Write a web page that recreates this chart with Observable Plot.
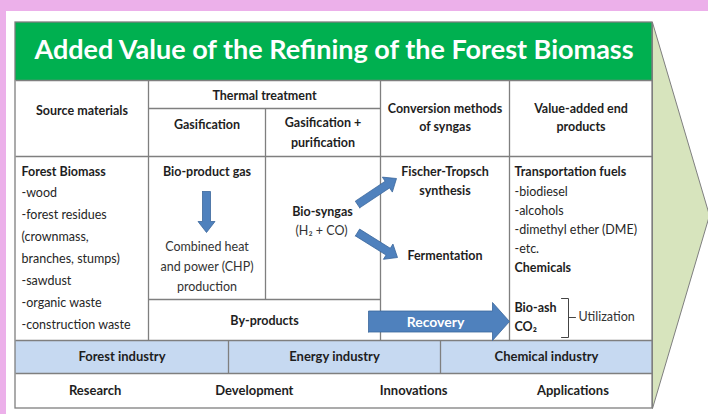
<!DOCTYPE html>
<html><head><meta charset="utf-8">
<script src="https://cdn.jsdelivr.net/npm/d3@7"></script>
<script src="https://cdn.jsdelivr.net/npm/@observablehq/plot@0.6"></script>
<style>
html,body{margin:0;padding:0;background:#ecb0ea;overflow:hidden;width:708px;height:414px}
#chart svg{display:block}
</style>
</head><body><div id="chart"></div>
<script>
// ---------- content ----------
const title = "Added Value of the Refining of the Forest Biomass";
const headerTop = ["Source materials", "Thermal treatment", "Conversion methods\nof syngas", "Value-added end\nproducts"];
const thermalSub = ["Gasification", "Gasification +\npurification"];
const sourceTitle = "Forest Biomass";
const sourceItems = ["-wood", "-forest residues", "(crownmass,", "branches, stumps)", "-sawdust", "-organic waste", "-construction waste"];
const gasTitle = "Bio-product gas";
const gasUse = ["Combined heat", "and power (CHP)", "production"];
const syngas = ["Bio-syngas", "(H\u2082 + CO)"];
const conversionMethods = ["Fischer-Tropsch\nsynthesis", "Fermentation"];
const fuelsTitle = "Transportation fuels";
const fuelItems = ["-biodiesel", "-alcohols", "-dimethyl ether (DME)", "-etc."];
const chemicals = "Chemicals";
const residues = ["Bio-ash", "CO\u2082"];
const residueUse = "Utilization";
const byProducts = "By-products";
const recovery = "Recovery";
const industries = ["Forest industry", "Energy industry", "Chemical industry"];
const stages = ["Research", "Development", "Innovations", "Applications"];

// ---------- layout (slide coordinates) ----------
const W = 708, H = 414;
const colX = [15, 148, 265, 380, 509, 652];
const rowY = [22, 80, 108, 156, 299, 340, 373, 408];
const industryX = [15, 228, 440, 652];

const pink = "#ecb0ea", green = "#00b050", band = "#c6d9f1", chevron = "#d7e4bd";
const gridC = "#7f7f7f", ink = "#1e1e1e", blue = "#4f81bd", blueDark = "#3b679c";
const font = "Lato, 'Open Sans', sans-serif";

function blockArrow(id, x0, y0, x1, y1, sh, hh, hl) {
  const dx = x1 - x0, dy = y1 - y0, L = Math.hypot(dx, dy), ux = dx / L, uy = dy / L, px = -uy, py = ux;
  const bx = x1 - ux * hl, by = y1 - uy * hl;
  const pts = [[x0 + px * sh, y0 + py * sh], [bx + px * sh, by + py * sh], [bx + px * hh, by + py * hh], [x1, y1],
    [bx - px * hh, by - py * hh], [bx - px * sh, by - py * sh], [x0 - px * sh, y0 - py * sh], [x0 + px * sh, y0 + py * sh]];
  return pts.map(([x, y]) => ({id, x, y}));
}

const arrows = [
  ...blockArrow("down", 206, 191, 206, 232, 4, 8.5, 11),
  ...blockArrow("up", 357, 204, 396, 178, 4, 9, 11),
  ...blockArrow("dn", 357, 232, 397, 257, 4, 9, 11),
];
const recoveryArrow = blockArrow("rec", 368, 321, 509, 321, 10.5, 19, 17);

const chevronPts = [{x: colX[5], y: rowY[0]}, {x: 709, y: 215}, {x: colX[5], y: rowY[7]}, {x: colX[5], y: rowY[0]}];

const gridLinks = [
  {x1: colX[0], x2: colX[5], y1: rowY[1], y2: rowY[1]},
  {x1: colX[1], x2: colX[3], y1: rowY[2], y2: rowY[2]},
  {x1: colX[0], x2: colX[5], y1: rowY[3], y2: rowY[3]},
  {x1: colX[1], x2: colX[3], y1: rowY[4], y2: rowY[4]},
  {x1: colX[0], x2: colX[5], y1: rowY[5], y2: rowY[5]},
  {x1: colX[0], x2: colX[5], y1: rowY[6], y2: rowY[6]},
  {x1: colX[1], x2: colX[1], y1: rowY[1], y2: rowY[5]},
  {x1: colX[2], x2: colX[2], y1: rowY[2], y2: rowY[4]},
  {x1: colX[3], x2: colX[3], y1: rowY[1], y2: rowY[5]},
  {x1: colX[4], x2: colX[4], y1: rowY[1], y2: rowY[5]},
  {x1: industryX[1], x2: industryX[1], y1: rowY[5], y2: rowY[6]},
  {x1: industryX[2], x2: industryX[2], y1: rowY[5], y2: rowY[6]},
];

const bracket = [{x: 561, y: 298}, {x: 568, y: 298}, {x: 568, y: 337}, {x: 561, y: 337}];
const bracketTick = [{x: 568, y: 317}, {x: 575, y: 317}];

const mid = (a, b) => (a + b) / 2;
const bold = {fontWeight: "bold", fontSize: 12.5, fill: ink, fontFamily: font};
const norm = {fontSize: 12.5, fill: "#262626", fontFamily: font};

const headerLabels = [
  {t: headerTop[0], x: mid(colX[0], colX[1]), y: 109},
  {t: headerTop[1], x: mid(colX[1], colX[3]), y: 94},
  {t: headerTop[2], x: mid(colX[3], colX[4]), y: 116},
  {t: headerTop[3], x: mid(colX[4], colX[5]), y: 116},
  {t: thermalSub[0], x: mid(colX[1], colX[2]), y: 123},
];

const chart = Plot.plot({
  width: W, height: H, margin: 0,
  x: {domain: [0, W], range: [0, W], axis: null},
  y: {domain: [0, H], range: [0, H], axis: null},
  style: {background: pink, fontFamily: font},
  marks: [
    Plot.rect([{x1: 6, x2: W, y1: 11, y2: H}], {x1: "x1", x2: "x2", y1: "y1", y2: "y2", fill: "white"}),
    Plot.line(chevronPts, {x: "x", y: "y", fill: chevron, stroke: gridC, strokeWidth: 1, curve: "linear"}),
    Plot.rect([{x1: colX[0], x2: colX[5], y1: rowY[0], y2: rowY[1]}], {x1: "x1", x2: "x2", y1: "y1", y2: "y2", fill: green}),
    Plot.rect([{x1: colX[0], x2: colX[5], y1: rowY[5], y2: rowY[6]}], {x1: "x1", x2: "x2", y1: "y1", y2: "y2", fill: band}),
    Plot.link(gridLinks, {x1: "x1", x2: "x2", y1: "y1", y2: "y2", stroke: gridC, strokeWidth: 1.3}),
    Plot.rect([{x1: colX[0], x2: colX[5], y1: rowY[0], y2: rowY[7]}], {x1: "x1", x2: "x2", y1: "y1", y2: "y2", fill: "none", stroke: gridC, strokeWidth: 1.3}),
    Plot.line(arrows, {x: "x", y: "y", z: "id", fill: blue, stroke: blueDark, strokeWidth: 0.8, curve: "linear"}),
    Plot.line(recoveryArrow, {x: "x", y: "y", z: "id", fill: blue, stroke: blueDark, strokeWidth: 0.8, curve: "linear"}),
    Plot.line(bracket, {x: "x", y: "y", stroke: "#444", strokeWidth: 1}),
    Plot.line(bracketTick, {x: "x", y: "y", stroke: "#444", strokeWidth: 1}),
    // title
    Plot.text([title], {x: mid(colX[0], colX[5]), y: 50, text: d => d, fill: "white", fontWeight: "bold", fontSize: 27, fontFamily: font}),
    // headers
    Plot.text(headerLabels, {x: "x", y: "y", text: "t", ...bold, lineHeight: 1.45}),
    Plot.text([thermalSub[1]], {x: mid(colX[2], colX[3]), y: 130, text: d => d, ...bold, lineHeight: 1.6}),
    // source materials
    Plot.text([sourceTitle], {x: 21, y: 171, text: d => d, textAnchor: "start", ...bold}),
    Plot.text([sourceItems.join("\n")], {x: 21, y: 255, text: d => d, textAnchor: "start", lineHeight: 1.76, ...norm}),
    // gasification
    Plot.text([gasTitle], {x: mid(colX[1], colX[2]), y: 171, text: d => d, ...bold}),
    Plot.text([gasUse.join("\n")], {x: mid(colX[1], colX[2]), y: 264.5, text: d => d, lineHeight: 1.6, ...norm, fill: "#333"}),
    Plot.text([syngas[0]], {x: 322, y: 211, text: d => d, ...bold}),
    Plot.text([syngas[1]], {x: 321, y: 230, text: d => d, ...norm, fill: "#333"}),
    // conversion
    Plot.text([conversionMethods[0]], {x: mid(colX[3], colX[4]), y: 179, text: d => d, lineHeight: 1.52, ...bold}),
    Plot.text([conversionMethods[1]], {x: mid(colX[3], colX[4]), y: 255, text: d => d, ...bold}),
    // end products
    Plot.text([fuelsTitle], {x: 514, y: 171, text: d => d, textAnchor: "start", ...bold}),
    Plot.text([fuelItems.join("\n")], {x: 514, y: 217.5, text: d => d, textAnchor: "start", lineHeight: 1.52, ...norm}),
    Plot.text([chemicals], {x: 514, y: 267, text: d => d, textAnchor: "start", ...bold}),
    Plot.text([residues.join("\n")], {x: 514, y: 314.5, text: d => d, textAnchor: "start", lineHeight: 1.52, ...bold}),
    Plot.text([residueUse], {x: 578, y: 316, text: d => d, textAnchor: "start", ...norm, fill: "#333"}),
    // by-products and recovery
    Plot.text([byProducts], {x: mid(colX[1], colX[3]), y: 320, text: d => d, ...bold}),
    Plot.text([recovery], {x: 435, y: 322, text: d => d, fill: "white", fontWeight: "bold", fontSize: 14, fontFamily: font}),
    // industries
    Plot.text(industries, {x: (d, i) => mid(industryX[i], industryX[i + 1]), y: mid(rowY[5], rowY[6]), text: d => d, ...bold, fontSize: 13}),
    // stages
    Plot.text(stages, {x: (d, i) => colX[0] + (colX[5] - colX[0]) * (2 * i + 1) / 8, y: mid(rowY[6], rowY[7]), text: d => d, ...bold, fontSize: 13}),
  ]
});
document.getElementById("chart").appendChild(chart);
</script>
</body></html>
